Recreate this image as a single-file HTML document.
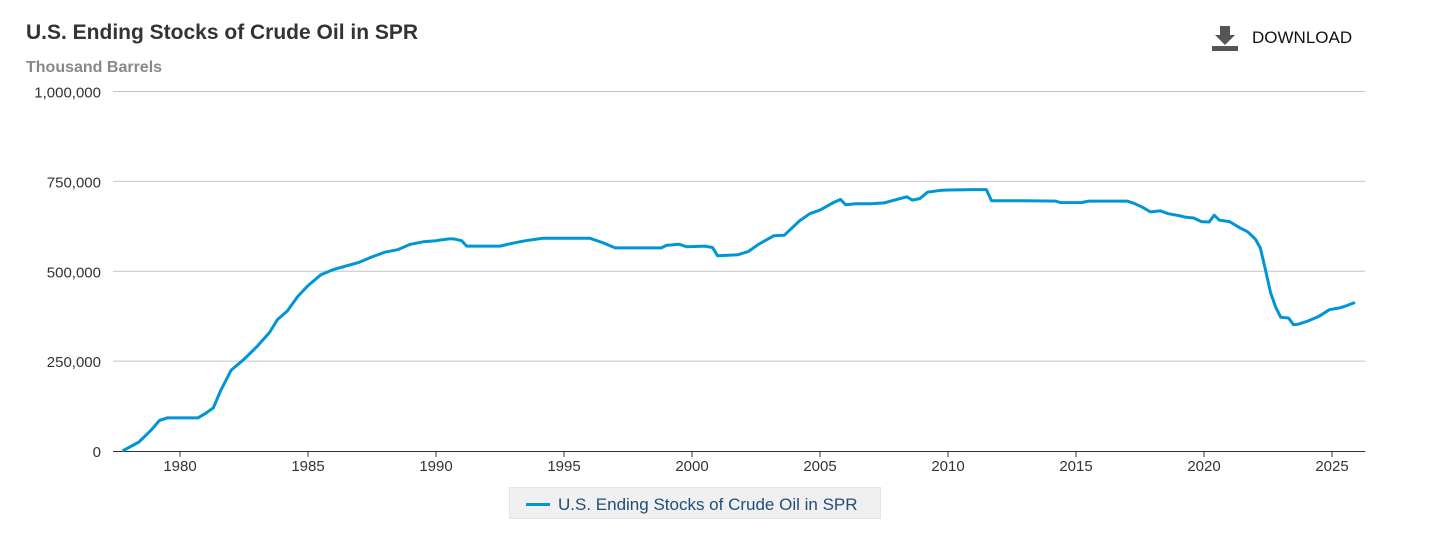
<!DOCTYPE html>
<html><head><meta charset="utf-8">
<style>
body{margin:0;background:#fff;width:1435px;height:534px;overflow:hidden;font-family:"Liberation Sans",sans-serif;}
#title{position:absolute;left:26px;top:21px;font-size:21px;font-weight:bold;color:#333;}
#sub{position:absolute;left:26px;top:59px;font-size:16px;font-weight:bold;color:#888;}
#dl{position:absolute;left:1212px;top:25px;height:26px;display:flex;align-items:center;cursor:pointer;}
#dl span{font-size:17px;color:#111;margin-left:14px;}
#legend{position:absolute;left:509px;top:487px;width:372px;height:32px;background:#f0f0f0;border:1px solid #e4e4e4;box-sizing:border-box;display:flex;align-items:center;padding-top:3px;}
#legend i{display:block;width:24px;height:3px;background:#0096d6;margin-left:16px;}
#legend span{font-size:17px;color:#1f4e79;margin-left:8px;}
svg{position:absolute;left:0;top:0;}
</style></head><body>
<div id="title">U.S. Ending Stocks of Crude Oil in SPR</div>
<div id="sub">Thousand Barrels</div>
<div id="dl">
<svg style="position:static" width="26" height="26"><rect x="8" y="1" width="10" height="10" fill="#555"/><polygon points="3,10 23,10 13,20" fill="#555"/><rect x="0" y="21" width="26" height="5" fill="#555"/></svg>
<span>DOWNLOAD</span></div>
<svg id="chart" width="1435" height="534"></svg>
<div id="legend"><i></i><span>U.S. Ending Stocks of Crude Oil in SPR</span></div>
<script>
const years=[1977.75,1978.4,1978.9,1979.2,1979.5,1980.0,1980.7,1981.0,1981.3,1981.6,1982.0,1982.5,1983.0,1983.5,1983.8,1984.2,1984.6,1985.0,1985.5,1986,1987,1987.5,1988,1988.5,1989,1989.5,1990,1990.5,1990.7,1991.0,1991.2,1992.5,1993,1993.5,1994,1994.2,1996,1996.5,1997,1998.8,1999,1999.5,1999.8,2000.5,2000.8,2001.0,2001.8,2002.2,2002.6,2003.2,2003.6,2004.2,2004.6,2005.0,2005.5,2005.8,2006.0,2006.4,2007,2007.5,2008,2008.4,2008.6,2008.9,2009.2,2009.7,2010.0,2011.0,2011.5,2011.7,2013,2014.2,2014.4,2015.2,2015.5,2017.0,2017.3,2017.6,2017.9,2018.3,2018.6,2019.0,2019.3,2019.6,2019.9,2020.2,2020.4,2020.6,2021.0,2021.4,2021.7,2022.0,2022.2,2022.4,2022.6,2022.8,2023.0,2023.3,2023.5,2023.7,2024.0,2024.5,2024.9,2025.3,2025.6,2025.9];
const values=[0,25,60,85,92,92,92,105,120,170,225,255,290,330,365,390,430,460,490,505,525,540,553,560,575,582,585,590,590,585,570,570,578,585,590,592,592,580,565,565,572,575,568,570,566,543,546,555,575,599,600,640,660,670,690,700,685,688,688,690,700,707,698,702,720,725,726,727,727,696,696,695,691,691,695,695,688,678,665,668,660,655,650,648,638,637,656,642,638,621,610,590,565,505,440,400,372,370,351,353,360,375,393,398,405,413];
const yTicks=[0,250000,500000,750000,1000000];
const xTicks=[1980,1985,1990,1995,2000,2005,2010,2015,2020,2025];
const NS="http://www.w3.org/2000/svg";
const svg=document.getElementById('chart');
const x=yr=>180+(yr-1980)*25.6;
const y=v=>451-v/1000*0.3595;
function mk(t,a){const e=document.createElementNS(NS,t);for(const k in a)e.setAttribute(k,a[k]);svg.appendChild(e);return e;}
yTicks.forEach(v=>{
 if(v>0){const g=mk('line',{x1:113,x2:1365,y1:y(v),y2:y(v),stroke:'#c4c4c4','stroke-width':1});
 
 }
 const t=mk('text',{x:101,y:y(v)+6,'text-anchor':'end','font-size':15,fill:'#333','font-family':'Liberation Sans, sans-serif'});
 t.textContent=v.toLocaleString('en-US');
 
 
});
const ax=mk('line',{x1:113,x2:1365,y1:451.5,y2:451.5,stroke:'#333','stroke-width':1});


xTicks.forEach(yr=>{
 const tk=mk('line',{x1:x(yr),x2:x(yr),y1:451,y2:457,stroke:'#333'});
 
 
 const t=mk('text',{x:x(yr),y:471,'text-anchor':'middle','font-size':15,fill:'#333','font-family':'Liberation Sans, sans-serif'});
 t.textContent=yr;
 
 
});
const d=years.map((yr,i)=>(i?'L':'M')+x(yr).toFixed(1)+','+y(values[i]*1000).toFixed(1)).join('');
const p=mk('path',{d:d,fill:'none',stroke:'#0096d6','stroke-width':3,'stroke-linejoin':'round'});


</script>
</body></html>
